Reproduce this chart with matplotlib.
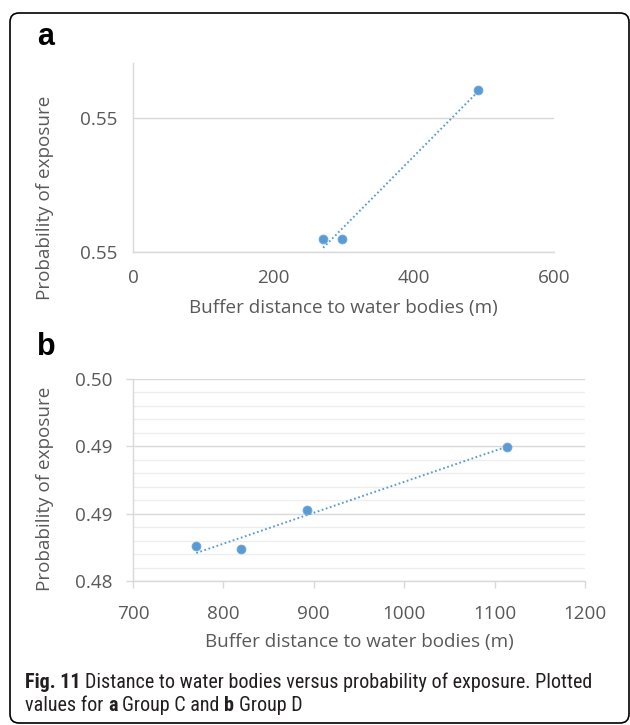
import matplotlib
matplotlib.use("Agg")
import matplotlib.pyplot as plt
import numpy as np
from matplotlib import font_manager
from matplotlib.patches import FancyBboxPatch
from matplotlib.transforms import IdentityTransform
from matplotlib.ticker import MultipleLocator

# ---------------- data ----------------
a_x = [271, 298, 492]
a_y = [0.54549, 0.54549, 0.55104]
a_xticks = [0, 200, 400, 600]
a_yticks = [0.545, 0.550]
a_yticklabels = ["0.55", "0.55"]

b_x = [770, 820, 892, 1114]
b_y = [0.48258, 0.48236, 0.48526, 0.48998]
b_xticks = [700, 800, 900, 1000, 1100, 1200]
b_yticks = [0.480, 0.485, 0.490, 0.495]
b_yticklabels = ["0.48", "0.49", "0.49", "0.50"]

xlabel = "Buffer distance to water bodies (m)"
ylabel = "Probability of exposure"
caption1 = [("Fig. 11", "bold"), ("Distance to water bodies versus probability of exposure. Plotted", "normal")]
caption2 = [("values for", "normal"), ("a", "bold"), ("Group C and", "normal"), ("b", "bold"), ("Group D", "normal")]

# ---------------- fonts ----------------
_names = {f.name for f in font_manager.fontManager.ttflist}
def pick(cands):
    for c in cands:
        if c in _names:
            return c
    return "DejaVu Sans"

TICK_FONT = pick(["Open Sans", "Noto Sans", "DejaVu Sans"])
CAP_FONT = pick(["Liberation Sans Narrow", "Roboto Condensed", "Open Sans", "DejaVu Sans"])
PANEL_FONT = pick(["Liberation Sans", "DejaVu Sans"])

W, H = 630, 725
fig = plt.figure(figsize=(W / 100, H / 100), dpi=100)
fig.patch.set_facecolor("white")

def add_axes_px(l, t, r, b):
    return fig.add_axes([l / W, 1 - b / H, (r - l) / W, (b - t) / H])

BLUE = "#5B9BD5"
GRID = "#D9D9D9"
MINOR = "#EEEEEE"
TXT = "#595959"
TSIZE = 13.6

def style(ax, xt, yt, ytl, ylim, xlim, ticks_on, ypad, xpad):
    ax.set_xlim(*xlim)
    ax.set_ylim(*ylim)
    ax.set_xticks(xt)
    ax.set_xticklabels([str(v) for v in xt])
    ax.set_yticks(yt)
    ax.set_yticklabels(ytl)
    for s in ["top", "right"]:
        ax.spines[s].set_visible(False)
    for s in ["left", "bottom"]:
        ax.spines[s].set_color(GRID)
        ax.spines[s].set_linewidth(1.0)
    ax.yaxis.grid(True, which="major", color=GRID, lw=1.0)
    ax.set_axisbelow(True)
    L = 5 if ticks_on else 0
    ax.tick_params(axis="both", which="major", length=L, color=GRID, width=1.0,
                   labelcolor=TXT, labelsize=TSIZE)
    ax.tick_params(axis="y", pad=ypad)
    ax.tick_params(axis="x", pad=xpad)
    for lab in ax.get_xticklabels() + ax.get_yticklabels():
        lab.set_fontfamily(TICK_FONT)

def draw(ax, x, y):
    x = np.asarray(x, float)
    y = np.asarray(y, float)
    coef = np.polyfit(x, y, 1)
    xx = np.array([x.min(), x.max()])
    ax.plot(xx, np.polyval(coef, xx), color=BLUE, lw=1.4, ls=(0, (0.9, 1.3)), zorder=2)
    ax.plot(x, y, "o", ms=6.4, color=BLUE, mec="#6FA8DC", mew=0.6, zorder=3, clip_on=False)

# ---------------- panel a ----------------
axA = add_axes_px(133, 63, 554, 252)
style(axA, a_xticks, a_yticks, a_yticklabels, (0.545, 0.55205), (0, 600), False, 11.5, 12)
draw(axA, a_x, a_y)

# ---------------- panel b ----------------
axB = add_axes_px(133, 379, 585, 581)
style(axB, b_xticks, b_yticks, b_yticklabels, (0.480, 0.495), (700, 1200), True, 9.4, 12)
axB.yaxis.set_minor_locator(MultipleLocator(0.001))
axB.yaxis.grid(True, which="minor", color=MINOR, lw=1.0)
axB.tick_params(axis="y", which="minor", length=0)
draw(axB, b_x, b_y)

# axis titles
for ax, (xl_y, yl_x, yl_y) in [(axA, (-0.296, -0.209, 0.286)), (axB, (-0.302, -0.195, 0.455))]:
    ax.set_xlabel(xlabel, fontsize=TSIZE, color=TXT, family=TICK_FONT)
    ax.set_ylabel(ylabel, fontsize=TSIZE, color=TXT, family=TICK_FONT)
    ax.xaxis.set_label_coords(0.5, xl_y)
    ax.xaxis.label.set_verticalalignment("center")
    ax.yaxis.set_label_coords(yl_x, yl_y)
    ax.yaxis.label.set_verticalalignment("center")
    ax.yaxis.label.set_horizontalalignment("center")

# panel letters
fig.text(37 / W, 1 - 45 / H, "a", fontsize=22, fontweight="bold", family=PANEL_FONT,
         va="baseline", ha="left", color="black")
fig.text(37 / W, 1 - 355 / H, "b", fontsize=22, fontweight="bold", family=PANEL_FONT,
         va="baseline", ha="left", color="black")

# caption
renderer = fig.canvas.get_renderer()

def measure(txt, size, weight):
    t = fig.text(0, 0, txt, fontsize=size, fontweight=weight, family=CAP_FONT)
    w = t.get_window_extent(renderer=renderer).width
    t.remove()
    return w

def seg_width(segs, size):
    sp = measure("x x", size, "normal") - measure("xx", size, "normal")
    return sum(measure(s, size, w) for s, w in segs) + sp * (len(segs) - 1), sp

base = 12.0
w0, _ = seg_width(caption1, base)
csize = base * (610 - 25) / w0
csize = max(11.0, min(csize, 14.5))

def draw_caption(segs, y_base, size):
    _, sp = seg_width(segs, size)
    x = 25.0
    for s, wgt in segs:
        t = fig.text(x / W, 1 - y_base / H, s, fontsize=size, fontweight=wgt, family=CAP_FONT,
                     va="baseline", ha="left", color="#231F20")
        x += t.get_window_extent(renderer=renderer).width + sp

draw_caption(caption1, 688, csize)
draw_caption(caption2, 711, csize)

# rounded frame
frame = FancyBboxPatch((10, H - 723), 619, 710,
                       boxstyle="round,pad=0,rounding_size=9",
                       transform=IdentityTransform(), fill=False,
                       edgecolor="black", lw=1.2)
fig.add_artist(frame)

fig.savefig("out.png", dpi=100, facecolor="white")
